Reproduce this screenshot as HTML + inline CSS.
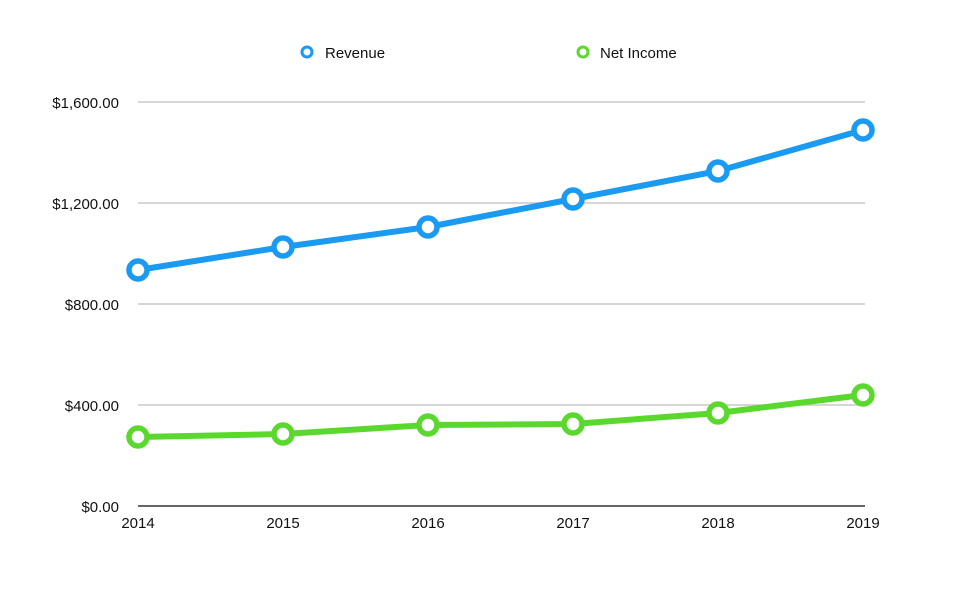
<!DOCTYPE html>
<html><head><meta charset="utf-8"><style>
html,body{margin:0;padding:0;background:#fff;}
svg{display:block;font-family:"Liberation Sans",Arial,sans-serif;}
</style></head><body>
<svg width="975" height="598" viewBox="0 0 975 598">
<rect width="975" height="598" fill="#fff"/>
<g stroke="#c8c8c8" stroke-width="1.5">
<line x1="138" y1="102" x2="865" y2="102"/>
<line x1="138" y1="203" x2="865" y2="203"/>
<line x1="138" y1="304" x2="865" y2="304"/>
<line x1="138" y1="405" x2="865" y2="405"/>
</g>
<line x1="138" y1="506" x2="865" y2="506" stroke="#333" stroke-width="1.5"/>
<g font-size="15" fill="#111" text-anchor="end">
<text x="119" y="108">$1,600.00</text>
<text x="119" y="209">$1,200.00</text>
<text x="119" y="310">$800.00</text>
<text x="119" y="411">$400.00</text>
<text x="119" y="512">$0.00</text>
</g>
<g font-size="15" fill="#111" text-anchor="middle">
<text x="138" y="528">2014</text><text x="283" y="528">2015</text><text x="428" y="528">2016</text>
<text x="573" y="528">2017</text><text x="718" y="528">2018</text><text x="863" y="528">2019</text>
</g>
<polyline points="138,270 283,247 428,227 573,199 718,171 863,130" fill="none" stroke="#1a9af0" stroke-width="6" stroke-linejoin="round"/>
<g fill="#fff" stroke="#1a9af0" stroke-width="5.5">
<circle cx="138" cy="270" r="9"/><circle cx="283" cy="247" r="9"/><circle cx="428" cy="227" r="9"/>
<circle cx="573" cy="199" r="9"/><circle cx="718" cy="171" r="9"/><circle cx="863" cy="130" r="9"/>
</g>
<polyline points="138,437 283,434 428,425 573,424 718,413 863,395" fill="none" stroke="#5ad82e" stroke-width="6" stroke-linejoin="round"/>
<g fill="#fff" stroke="#5ad82e" stroke-width="5.5">
<circle cx="138" cy="437" r="9"/><circle cx="283" cy="434" r="9"/><circle cx="428" cy="425" r="9"/>
<circle cx="573" cy="424" r="9"/><circle cx="718" cy="413" r="9"/><circle cx="863" cy="395" r="9"/>
</g>
<circle cx="307" cy="52" r="5" fill="#fff" stroke="#1a9af0" stroke-width="3"/>
<text x="325" y="58" font-size="15" fill="#111">Revenue</text>
<circle cx="583" cy="52" r="5" fill="#fff" stroke="#5ad82e" stroke-width="3"/>
<text x="600" y="58" font-size="15" fill="#111">Net Income</text>
</svg>
</body></html>
